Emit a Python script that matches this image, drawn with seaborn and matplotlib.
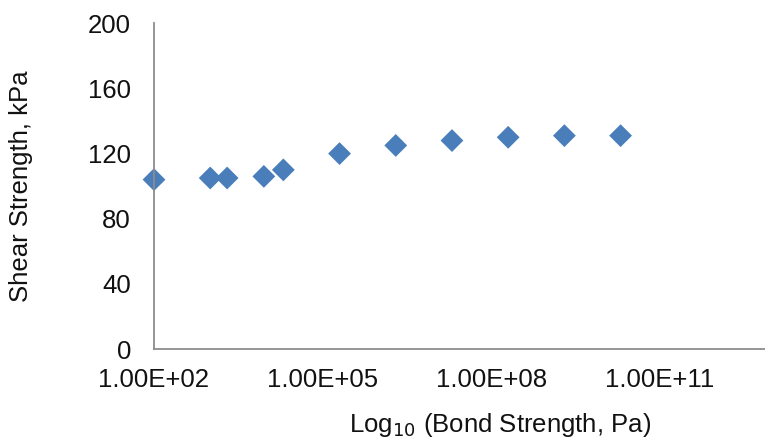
import numpy as np
import pandas as pd
import matplotlib
matplotlib.use("Agg")
import matplotlib.pyplot as plt
import seaborn as sns
from matplotlib.ticker import FixedLocator, FuncFormatter, NullLocator

# Bond strength (Pa) and corresponding shear strength (kPa)
bond_strength = [1e2, 1e3, 2e3, 9e3, 2e4, 2e5, 2e6, 2e7, 2e8, 2e9, 2e10]
shear_strength = [104, 105, 105, 106, 110, 120, 125, 128, 130, 131, 131]

x_ticks = [1e2, 1e5, 1e8, 1e11]
y_ticks = [0, 40, 80, 120, 160, 200]

df = pd.DataFrame({"bond": bond_strength, "shear": shear_strength})

sns.set_theme(style="white")
plt.rcParams["font.family"] = ["Liberation Sans", "DejaVu Sans"]

fig = plt.figure(figsize=(7.65, 4.42), dpi=100)
ax = fig.add_axes([0.2013, 0.2104, 0.7987, 0.7369])

sns.scatterplot(data=df, x="bond", y="shear", ax=ax, marker="D", s=135,
                color="#4a7ebb", edgecolor="none", linewidth=0, legend=False,
                clip_on=False)

ax.set_xscale("log")
ax.set_xlim(1e2, 10 ** 12.87)
ax.set_ylim(0, 200)
ax.xaxis.set_major_locator(FixedLocator(x_ticks))
ax.xaxis.set_minor_locator(NullLocator())
ax.xaxis.set_major_formatter(FuncFormatter(lambda v, p: f"{v:.2E}"))
ax.yaxis.set_major_locator(FixedLocator(y_ticks))

axis_color = "#8c8c8c"
for side in ["top", "right"]:
    ax.spines[side].set_visible(False)
for side in ["left", "bottom"]:
    ax.spines[side].set_color(axis_color)
    ax.spines[side].set_linewidth(1.3)

ax.tick_params(axis="both", which="major", direction="out", length=5.5,
               width=1.3, color=axis_color, labelsize=18.5, labelcolor="#111111")
ax.tick_params(axis="x", pad=8)
ax.tick_params(axis="y", pad=11)

ax.set_xlabel("Log$_{10}$ (Bond Strength, Pa)", fontsize=18.5, color="#111111")
ax.set_ylabel("Shear Strength, kPa", fontsize=18.5, color="#111111")
ax.xaxis.set_label_coords(0.566, -0.19)
ax.yaxis.set_label_coords(-0.198, 0.5)

fig.savefig("out.png", dpi=100)
